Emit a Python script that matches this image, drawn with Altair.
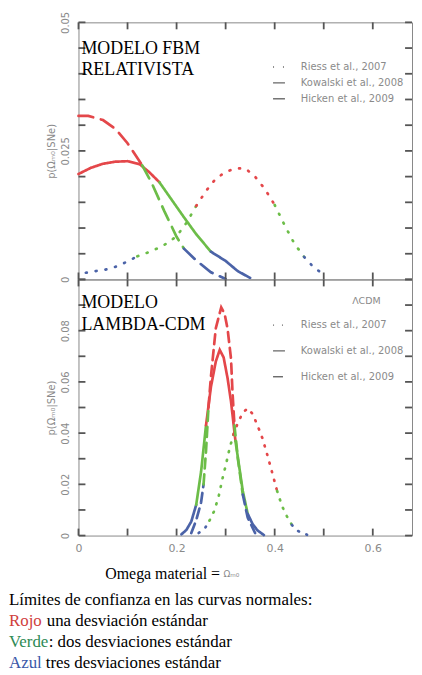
import altair as alt
import pandas as pd

RED, GREEN, BLUE = "#e4474a", "#6cbd48", "#4b63a8"
series_names = ["Riess et al., 2007", "Kowalski et al., 2008", "Hicken et al., 2009"]

# ---------------- Modelo FBM relativista (top panel) ----------------
fbm_riess_x = [0.015, 0.04, 0.06, 0.08, 0.10, 0.12, 0.14, 0.16, 0.18, 0.20, 0.22, 0.24, 0.26,
               0.28, 0.30, 0.32, 0.34, 0.36, 0.38, 0.40, 0.42, 0.44, 0.46, 0.48, 0.50]
fbm_riess_y = [0.0013, 0.0017, 0.0020, 0.0026, 0.0035, 0.0045, 0.0052, 0.0060, 0.0070, 0.0084,
               0.0110, 0.0143, 0.0172, 0.0196, 0.0209, 0.0216, 0.0216, 0.0200, 0.0176, 0.0145,
               0.0106, 0.0070, 0.0044, 0.0023, 0.0010]
fbm_riess_bands = [(0.11, BLUE), (0.24, GREEN), (0.40, RED), (0.45, GREEN), (1.0, BLUE)]

fbm_kow_x = [0.0, 0.025, 0.05, 0.075, 0.10, 0.125, 0.145, 0.165, 0.19, 0.215, 0.24, 0.27, 0.30, 0.325, 0.35]
fbm_kow_y = [0.0205, 0.0217, 0.0225, 0.0229, 0.0230, 0.0224, 0.0208, 0.0189, 0.0155, 0.0121,
             0.0088, 0.0054, 0.0036, 0.0016, 0.0003]
fbm_kow_bands = [(0.165, RED), (0.27, GREEN), (1.0, BLUE)]

fbm_hic_x = [0.0, 0.02, 0.05, 0.075, 0.10, 0.13, 0.15, 0.175, 0.20, 0.215, 0.24, 0.27, 0.30]
fbm_hic_y = [0.0318, 0.0318, 0.0310, 0.0293, 0.0265, 0.0222, 0.0186, 0.0133, 0.0083, 0.0060,
             0.0037, 0.0014, 0.0001]
fbm_hic_bands = [(0.13, RED), (0.215, GREEN), (1.0, BLUE)]

# ---------------- Modelo Lambda-CDM (bottom panel) ----------------
lcdm_riess_x = [0.245, 0.257, 0.267, 0.277, 0.286, 0.294, 0.301, 0.308, 0.316, 0.325, 0.335, 0.345,
                0.355, 0.365, 0.375, 0.385, 0.395, 0.405, 0.415, 0.425, 0.435, 0.446, 0.466]
lcdm_riess_y = [0.0010, 0.0026, 0.0058, 0.0097, 0.0155, 0.0226, 0.0280, 0.0340, 0.0395, 0.0440,
                0.0480, 0.0497, 0.0475, 0.0430, 0.0380, 0.0315, 0.0245, 0.0174, 0.0115, 0.0075,
                0.0042, 0.0019, 0.0003]
lcdm_riess_bands = [(0.267, BLUE), (0.316, GREEN), (0.405, RED), (0.435, GREEN), (1.0, BLUE)]

lcdm_kow_x = [0.21, 0.22, 0.23, 0.24, 0.25, 0.26, 0.27, 0.28, 0.288, 0.296, 0.304, 0.311, 0.32,
              0.328, 0.335, 0.345, 0.355, 0.365, 0.378]
lcdm_kow_y = [0.0005, 0.0022, 0.0055, 0.0120, 0.0250, 0.0430, 0.0580, 0.0680, 0.0725, 0.0695,
              0.0614, 0.0523, 0.0370, 0.0265, 0.0174, 0.0085, 0.0045, 0.0020, 0.0002]
lcdm_kow_bands = [(0.24, BLUE), (0.26, GREEN), (0.32, RED), (0.345, GREEN), (1.0, BLUE)]

lcdm_hic_x = [0.23, 0.24, 0.25, 0.255, 0.26, 0.265, 0.27, 0.28, 0.291, 0.298, 0.304, 0.311, 0.314,
              0.318, 0.325, 0.335, 0.345, 0.36]
lcdm_hic_y = [0.001, 0.006, 0.013, 0.020, 0.033, 0.050, 0.062, 0.081, 0.0891, 0.0865, 0.0807,
              0.069, 0.056, 0.043, 0.030, 0.016, 0.007, 0.001]
lcdm_hic_bands = [(0.255, BLUE), (0.265, GREEN), (0.318, RED), (0.335, GREEN), (1.0, BLUE)]

# axis ticks (every 0.1 on x; every 0.005 / 0.01 on y) and labelled values
x_ticks = [0, 0.1, 0.2, 0.3, 0.4, 0.5, 0.6]
top_y_ticks = [0, 0.005, 0.01, 0.015, 0.02, 0.025, 0.03, 0.035, 0.04, 0.045, 0.05]
bottom_y_ticks = [0, 0.01, 0.02, 0.03, 0.04, 0.05, 0.06, 0.07, 0.08, 0.09, 0.1]
top_major = [0, 0.025, 0.05]
bottom_major = [0, 0.02, 0.04, 0.06, 0.08]
x_major = [0, 0.2, 0.4, 0.6]

# texts
top_label = "MODELO FBM\nRELATIVISTA"
bottom_label = "MODELO\nLAMBDA-CDM"
lcdm_tag = "ΛCDM"
y_title = "p(Ωₘ₀|SNe)"
x_title_black = "Omega material ="
x_title_gray = "Ωₘ₀"
caption_head = "Límites de confianza en las curvas normales:"
caption_words = ["Rojo", "Verde", "Azul"]
caption_rest = ["una desviación estándar", ": dos desviaciones estándar", "tres desviaciones estándar"]
caption_colors = ["#d0403c", "#2e8a55", "#3a58a8"]

XMAX = 0.68
W = 336
SERIF = "Liberation Serif"
SANS = "DejaVu Sans"
GRAY = "#8a8a8a"
TICK = "#555555"
TL = 7  # tick length


def build(curves):
    rows = []
    for name, xs, ys, bands in curves:
        seg = 0
        current = None
        for i in range(len(xs) - 1):
            mid = (xs[i] + xs[i + 1]) / 2
            col = next(c for ub, c in bands if mid <= ub)
            if col != current:
                seg += 1
                current = col
                rows.append(dict(series=name, seg=f"{name}-{seg}", color=col, x=xs[i], y=ys[i]))
            rows.append(dict(series=name, seg=f"{name}-{seg}", color=col, x=xs[i + 1], y=ys[i + 1]))
    return pd.DataFrame(rows)


def label_expr(major):
    return "indexof([" + ",".join(str(v) for v in major) + "], datum.value) >= 0 ? format(datum.value, '') : ''"


def text_layer(txt, x, y, size, color="black", font=SERIF, align="left", line_height=None):
    kw = {}
    if line_height:
        kw = dict(lineBreak="\n", lineHeight=line_height)
    return alt.Chart(pd.DataFrame({"t": [txt]})).mark_text(
        align=align, baseline="middle", font=font, fontSize=size, color=color, **kw
    ).encode(text="t:N", x=alt.value(x), y=alt.value(y))


def panel(df, ymax, height, yticks, ymajor, dash_range, legend_y, legend_rowpad, show_x_labels, extra):
    xs = alt.Scale(domain=[0, XMAX], nice=False, zero=False)
    ys = alt.Scale(domain=[0, ymax], nice=False)
    base_kw = dict(ticks=False, tickSize=0, domain=False, grid=False)
    x_axis = alt.Axis(values=x_ticks, labels=show_x_labels, labelExpr=label_expr(x_major),
                      labelOverlap=False, labelFlush=False, labelPadding=7, labelFont=SANS,
                      labelFontSize=11, labelColor=GRAY, title=None, **base_kw)
    y_axis = alt.Axis(values=yticks, labelExpr=label_expr(ymajor), labelOverlap=False, labelFlush=False,
                      labelAngle=270, labelAlign="center", labelBaseline="bottom", labelPadding=8,
                      labelFont=SANS, labelFontSize=10, labelColor=GRAY,
                      title=y_title, titleAngle=270, titleX=-22, titleY=height / 2,
                      titleAlign="center", titleBaseline="bottom", titleFont=SANS, titleFontSize=10,
                      titleFontWeight="normal", titleColor=GRAY, **base_kw)
    curves = alt.Chart(df).mark_line(strokeWidth=2.7, strokeCap="round").encode(
        x=alt.X("x:Q", scale=xs, axis=x_axis),
        y=alt.Y("y:Q", scale=ys, axis=y_axis),
        color=alt.Color("color:N", scale=None),
        strokeDash=alt.StrokeDash(
            "series:N",
            scale=alt.Scale(domain=series_names, range=dash_range),
            legend=alt.Legend(orient="none", legendX=195, legendY=legend_y, title=None,
                              symbolType="stroke", symbolSize=144, symbolStrokeWidth=1.4,
                              symbolStrokeColor="#666", labelFont=SANS, labelFontSize=10,
                              labelColor=GRAY, labelOffset=15, rowPadding=legend_rowpad, padding=0),
        ),
        detail="seg:N",
    )
    xt = pd.DataFrame({"v": x_ticks})
    yt = pd.DataFrame({"v": yticks})
    rule = dict(color=TICK, strokeWidth=1.8)
    tick_layers = [
        alt.Chart(xt).mark_rule(**rule).encode(x=alt.X("v:Q", scale=xs, axis=None),
                                               y=alt.value(height - TL), y2=alt.value(height)),
        alt.Chart(xt).mark_rule(**rule).encode(x=alt.X("v:Q", scale=xs, axis=None),
                                               y=alt.value(0), y2=alt.value(TL)),
        alt.Chart(yt).mark_rule(**rule).encode(y=alt.Y("v:Q", scale=ys, axis=None),
                                               x=alt.value(0), x2=alt.value(TL)),
        alt.Chart(yt).mark_rule(**rule).encode(y=alt.Y("v:Q", scale=ys, axis=None),
                                               x=alt.value(W - TL), x2=alt.value(W)),
    ]
    return alt.layer(curves, *tick_layers, *extra).resolve_axis(x="independent", y="independent").properties(
        width=W, height=height)


top_df = build([
    (series_names[0], fbm_riess_x, fbm_riess_y, fbm_riess_bands),
    (series_names[1], fbm_kow_x, fbm_kow_y, fbm_kow_bands),
    (series_names[2], fbm_hic_x, fbm_hic_y, fbm_hic_bands),
])
bottom_df = build([
    (series_names[0], lcdm_riess_x, lcdm_riess_y, lcdm_riess_bands),
    (series_names[1], lcdm_kow_x, lcdm_kow_y, lcdm_kow_bands),
    (series_names[2], lcdm_hic_x, lcdm_hic_y, lcdm_hic_bands),
])

top_extra = [text_layer(top_label, 3, 27, 18, line_height=21)]
bottom_extra = [
    text_layer(bottom_label, 3, 24, 18, line_height=22),
    text_layer(lcdm_tag, 290, 22, 9.5, color=GRAY, font=SANS, align="center"),
    text_layer(x_title_black, 27, 297, 16),
    text_layer(x_title_gray, 146, 297, 9, color=GRAY, font=SANS),
    text_layer(caption_head, -70, 323, 17),
]
ys_caption = [344, 365, 386]
xs_rest = [-32, -30, -33]
for w, r, c, yy, xr in zip(caption_words, caption_rest, caption_colors, ys_caption, xs_rest):
    bottom_extra.append(text_layer(w, -70, yy, 17, color=c))
    bottom_extra.append(text_layer(r, xr, yy, 17))

top = panel(top_df, 0.05, 259, top_y_ticks, top_major, [[1, 9], [1, 0], [15, 8]], 38, 4, False, top_extra)
bottom = panel(bottom_df, 0.1, 258, bottom_y_ticks, bottom_major, [[1, 8], [1, 0], [10, 6]], 39, 14, True,
               bottom_extra)

chart = alt.vconcat(top, bottom, spacing=0, bounds="flush").resolve_scale(
    x="independent", y="independent", strokeDash="independent"
).resolve_legend(strokeDash="independent").properties(
    padding={"left": 0, "top": 0, "right": 0, "bottom": 0}
).configure_view(stroke="#888", strokeWidth=1)

chart.save("out.html", embed_options={"renderer": "svg", "actions": False})
